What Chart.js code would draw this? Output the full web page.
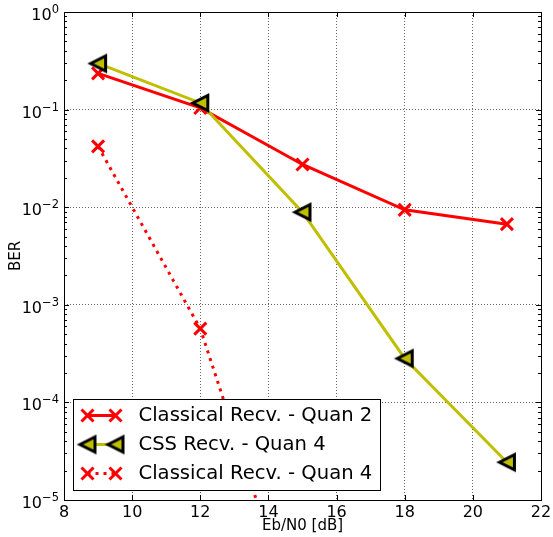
<!DOCTYPE html>
<html><head><meta charset="utf-8">
<script src="https://cdn.jsdelivr.net/npm/chart.js@4.4.0/dist/chart.umd.min.js"></script>
<style>html,body{margin:0;padding:0;background:#fff;}#wrap{width:553px;height:537px;}</style>
</head><body><div id="wrap"><canvas id="c" width="553" height="537"></canvas></div>
<script>
// ---- data ----
const ebn0 = [9, 12, 15, 18, 21];
const berClassicalQ2 = [0.235, 0.104, 0.0274, 0.0094, 0.0067];
const berCssQ4 = [0.297, 0.117, 0.0089, 0.000282, 0.0000244];
const ebn0ClassicalQ4 = [9, 12, 15];
const berClassicalQ4 = [0.042, 0.00057, 0.00000036];
const seriesLabels = ['Classical Recv. - Quan 2', 'CSS Recv. - Quan 4', 'Classical Recv. - Quan 4'];
const xTicks = [8, 10, 12, 14, 16, 18, 20, 22];
const yTickBase = '10';
const yTickExpLabels = ['\u22125', '\u22124', '\u22123', '\u22122', '\u22121', '0'];
const yExponents = [-5, -4, -3, -2, -1, 0];

const FONT = "'DejaVu Sans', sans-serif";
const RED = '#ff0000';
const OLIVE = '#bfbf00';
const GRID = 'rgba(0,0,0,0.6)';

function toXY(xs, ys) { return xs.map((x, i) => ({x: x, y: ys[i]})); }

function makeTriangle() {
  const c = document.createElement('canvas');
  c.width = 26; c.height = 26;
  const g = c.getContext('2d');
  const m = 13, h = 7.5;
  g.beginPath();
  g.moveTo(m - h, m);
  g.lineTo(m + h, m - h);
  g.lineTo(m + h, m + h);
  g.closePath();
  g.fillStyle = OLIVE; g.fill();
  g.lineJoin = 'miter'; g.lineWidth = 3; g.strokeStyle = '#000'; g.stroke();
  return c;
}
const triImg = makeTriangle();

function isDecade(v) {
  const l = Math.log10(v);
  return Math.abs(l - Math.round(l)) < 1e-9;
}

const yLabelPlugin = {
  id: 'yLogLabels',
  afterDraw(chart) {
    const ctx = chart.ctx, ys = chart.scales.y;
    const right = ys.right - 5;
    ctx.save();
    ctx.fillStyle = '#000';
    ctx.textBaseline = 'alphabetic';
    ctx.textAlign = 'right';
    yExponents.forEach((e, i) => {
      const py = ys.getPixelForValue(Math.pow(10, e));
      ctx.font = '11.5px ' + FONT;
      const ew = ctx.measureText(yTickExpLabels[i]).width;
      ctx.fillText(yTickExpLabels[i], right, py + 1);
      ctx.font = '16px ' + FONT;
      ctx.fillText(yTickBase, right - ew, py + 8);
    });
    ctx.restore();
  }
};

const framePlugin = {
  id: 'frameAndLegend',
  afterDatasetsDraw(chart) {
    const ctx = chart.ctx, a = chart.chartArea;
    const xs = chart.scales.x, ys = chart.scales.y;
    const L = Math.round(a.left), R = Math.round(a.right), T = Math.round(a.top), B = Math.round(a.bottom);
    ctx.save();
    ctx.strokeStyle = '#000'; ctx.lineWidth = 1; ctx.setLineDash([]);
    ctx.beginPath();
    xs.ticks.forEach(t => {
      const px = Math.round(xs.getPixelForValue(t.value)) + 0.5;
      ctx.moveTo(px, B); ctx.lineTo(px, B - 5);
      ctx.moveTo(px, T); ctx.lineTo(px, T + 5);
    });
    ys.ticks.forEach(t => {
      const py = Math.round(ys.getPixelForValue(t.value)) + 0.5;
      const len = isDecade(t.value) ? 5 : 3;
      ctx.moveTo(L, py); ctx.lineTo(L + len, py);
      ctx.moveTo(R, py); ctx.lineTo(R - len, py);
    });
    ctx.stroke();
    ctx.strokeRect(L + 0.5, T + 0.5, R - L, B - T);
    ctx.restore();

    // legend
    ctx.save();
    const LFONT = '19.6px ' + FONT;
    ctx.font = LFONT;
    const widths = seriesLabels.map(s => ctx.measureText(s).width);
    const maxW = Math.max.apply(null, widths);
    const rowH = 29;
    const boxX = Math.round(a.left) + 9.5;
    const boxH = rowH * seriesLabels.length + 4;
    const boxY = Math.round(a.bottom) - 9.5 - boxH;
    const boxW = Math.round(65 + maxW + 8);
    ctx.fillStyle = '#fff';
    ctx.fillRect(boxX, boxY, boxW, boxH);
    ctx.strokeStyle = '#000'; ctx.lineWidth = 1;
    ctx.strokeRect(boxX, boxY, boxW, boxH);
    chart.data.datasets.forEach((ds, i) => {
      const cy = boxY + 16 + i * rowH;
      const x1 = boxX + 14, x2 = boxX + 42;
      ctx.save();
      ctx.strokeStyle = ds.borderColor; ctx.lineWidth = ds.borderWidth;
      ctx.setLineDash(ds.borderDash || []);
      ctx.beginPath(); ctx.moveTo(x1, cy); ctx.lineTo(x2, cy); ctx.stroke();
      ctx.setLineDash([]);
      ctx.strokeStyle = ds.pointBorderColor; ctx.fillStyle = ds.pointBackgroundColor;
      ctx.lineWidth = ds.pointBorderWidth;
      [x1, x2].forEach(px => Chart.helpers.drawPoint(ctx, {pointStyle: ds.pointStyle, rotation: 0, radius: ds.pointRadius, borderWidth: ds.pointBorderWidth}, px, cy));
      ctx.restore();
      ctx.fillStyle = '#000'; ctx.textBaseline = 'middle'; ctx.textAlign = 'left';
      ctx.font = LFONT;
      ctx.fillText(seriesLabels[i], boxX + 65, cy);
    });
    ctx.restore();
  }
};

new Chart(document.getElementById('c'), {
  type: 'line',
  data: {
    datasets: [
      {label: seriesLabels[0], data: toXY(ebn0, berClassicalQ2), borderColor: RED, borderWidth: 3,
       pointStyle: 'crossRot', pointRadius: 8.5, pointBorderWidth: 3, pointBorderColor: RED, pointBackgroundColor: RED, order: 3},
      {label: seriesLabels[1], data: toXY(ebn0, berCssQ4), borderColor: OLIVE, borderWidth: 3,
       pointStyle: triImg, pointRadius: 9, pointBorderWidth: 3, pointBorderColor: '#000', pointBackgroundColor: OLIVE, order: 2},
      {label: seriesLabels[2], data: toXY(ebn0ClassicalQ4, berClassicalQ4), borderColor: RED, borderWidth: 3, borderDash: [3, 5],
       pointStyle: 'crossRot', pointRadius: 8.5, pointBorderWidth: 3, pointBorderColor: RED, pointBackgroundColor: RED, order: 1}
    ]
  },
  options: {
    responsive: false, animation: false, devicePixelRatio: 1,
    layout: {padding: {left: 0, top: 7, right: 11, bottom: 0}},
    elements: {line: {tension: 0, fill: false}},
    plugins: {legend: {display: false}, tooltip: {enabled: false}},
    scales: {
      x: {
        type: 'linear', min: 8, max: 22,
        afterBuildTicks: s => { s.ticks = xTicks.map(v => ({value: v})); },
        ticks: {font: {family: FONT, size: 16}, color: '#000', padding: 3, maxRotation: 0, autoSkip: false,
                callback: v => String(v)},
        grid: {color: GRID, lineWidth: 1, drawTicks: false},
        border: {display: false, dash: [1, 2]},
        title: {display: true, text: 'Eb/N0 [dB]', font: {family: FONT, size: 15}, color: '#000', padding: {top: 2, bottom: 2}},
        afterFit: s => { s.height = 37; s.paddingLeft = 0; s.paddingRight = 0; }
      },
      y: {
        type: 'logarithmic', min: 1e-5, max: 1,
        afterBuildTicks: s => {
          const t = [];
          for (let e = -5; e <= 0; e++) for (let m = 1; m <= 9; m++) {
            const v = m * Math.pow(10, e);
            if (v <= 1.0000001) t.push({value: v});
          }
          s.ticks = t;
        },
        ticks: {font: {family: FONT, size: 16}, color: '#000', padding: 5, autoSkip: false, callback: () => ''},
        grid: {color: c => (c.tick && isDecade(c.tick.value)) ? GRID : 'rgba(0,0,0,0)', lineWidth: 1, drawTicks: false},
        border: {display: false, dash: [1, 2]},
        title: {display: true, text: 'BER', font: {family: FONT, size: 15}, color: '#000', padding: {top: 7, bottom: 7}},
        afterFit: s => { s.width = 64; s.paddingTop = 0; s.paddingBottom = 0; }
      }
    }
  },
  plugins: [framePlugin, yLabelPlugin]
});
</script></body></html>
